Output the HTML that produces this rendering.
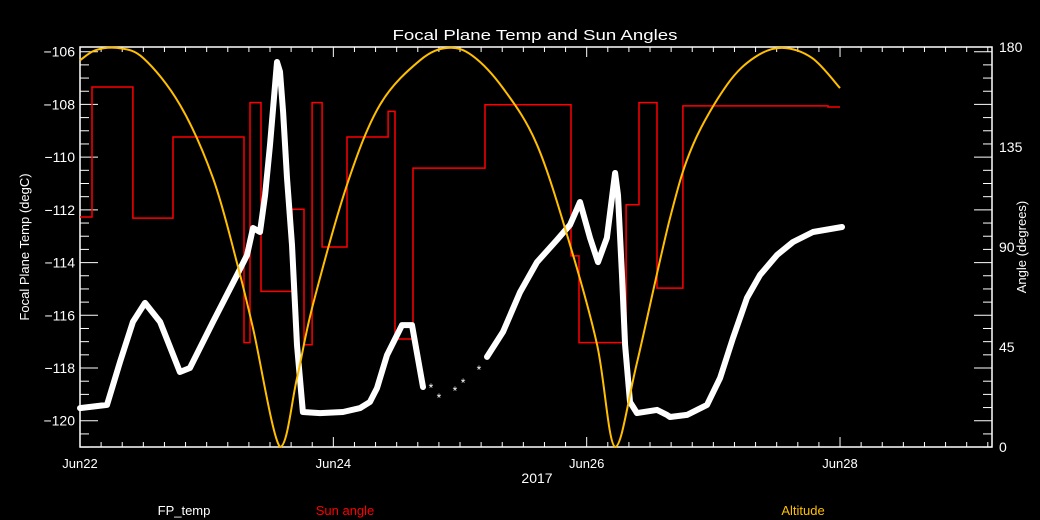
<!DOCTYPE html>
<html><head><meta charset="utf-8"><style>
html,body{margin:0;padding:0;background:#000;}
svg{display:block;font-family:"Liberation Sans",sans-serif;}
</style></head><body>
<svg id="chart" width="1040" height="520" viewBox="0 0 1040 520">
<rect width="1040" height="520" fill="#000"/>
<text x="535" y="40" fill="#fff" font-size="15" text-anchor="middle" textLength="285" lengthAdjust="spacingAndGlyphs">Focal Plane Temp and Sun Angles</text>
<g id="axes"></g>
<g id="series"></g>
<text x="537" y="483" fill="#fff" font-size="14" text-anchor="middle">2017</text>
<text transform="translate(29,247) rotate(-90)" fill="#fff" font-size="13" text-anchor="middle">Focal Plane Temp (degC)</text>
<text transform="translate(1026,247) rotate(-90)" fill="#fff" font-size="13" text-anchor="middle">Angle (degrees)</text>
<text x="184" y="515" fill="#fff" font-size="13" text-anchor="middle">FP_temp</text>
<text x="345" y="515" fill="#ff0000" font-size="13" text-anchor="middle">Sun angle</text>
<text x="803" y="515" fill="#ffbf00" font-size="13" text-anchor="middle">Altitude</text>
</svg>
<script>
// ---- data ----
const xTickLabels = ["Jun22","Jun24","Jun26","Jun28"];
const xTickDays = [0,2,4,6];
const leftTickVals = [-106,-108,-110,-112,-114,-116,-118,-120];
const rightTickVals = [0,45,90,135,180];
const tempDays = [0,.213,.316,.418,.513,.632,.789,.868,1.05,1.239,1.318,1.366,1.421,1.461,1.5,1.555,1.579,1.603,1.634,1.674,1.713,1.760,1.895,2.076,2.211,2.289,2.345,2.424,2.542,2.621,2.708];
const tempVals = [-119.52,-119.40,-117.77,-116.25,-115.53,-116.25,-118.15,-118.00,-116.25,-114.48,-113.72,-112.69,-112.84,-111.44,-109.54,-106.39,-106.76,-108.28,-110.79,-113.33,-117.13,-119.67,-119.71,-119.67,-119.52,-119.29,-118.76,-117.51,-116.37,-116.37,-118.72];
const temp2Days = [3.213,3.339,3.474,3.608,3.766,3.868,3.947,4.026,4.089,4.160,4.224,4.247,4.279,4.303,4.342,4.397,4.555,4.634,4.658,4.792,4.950,5.053,5.155,5.266,5.368,5.503,5.629,5.787,6.016];
const temp2Vals = [-117.58,-116.63,-115.12,-113.98,-113.14,-112.57,-111.70,-113.06,-113.98,-113.06,-110.60,-111.44,-114.48,-117.13,-119.29,-119.71,-119.59,-119.78,-119.86,-119.78,-119.40,-118.38,-116.86,-115.34,-114.47,-113.71,-113.22,-112.84,-112.65];
const sparseDays = [2.771,2.834,2.960,3.024,3.150];
const sparseVals = [-118.72,-119.10,-118.83,-118.53,-118.04];
const sunDays = [0,.095,.418,.734,1.295,1.342,1.429,1.674,1.768,1.832,1.911,2.108,2.432,2.487,2.629,3.197,3.876,3.939,4.311,4.413,4.555,4.760,5.905,6.0];
const sunVals = [103.5,162,103,139.5,47,155,70,107,46,155,90,139.5,151,48.6,125.5,154,86,47,109,155,71.5,153.5,153,153];
const altDays = [0,.12,.292,.5,.789,1.05,1.239,1.366,1.579,1.713,1.839,2.108,2.368,2.684,2.905,3.1,3.339,3.608,3.868,4.082,4.224,4.397,4.658,4.839,5.108,5.33,5.542,5.78,6.0];
const altVals = [174,178.5,179.6,175,154,121,83,53.5,0,31,64,118,154,174,179.6,176,161.5,136,91,46,0,38,103,136,163,175.5,179.6,175,161.5];

// ---- scales ----
const L=80,R=992,T=47,B=447;
const xs=d=>L+d*126.67;
const yT=v=>51.7+(-106-v)*26.36;
const yA=a=>B-a/0.45;
const NS="http://www.w3.org/2000/svg";
const axes=document.getElementById('axes'), series=document.getElementById('series');
function mk(tag,attrs,parent){const e=document.createElementNS(NS,tag);for(const k in attrs)e.setAttribute(k,attrs[k]);parent.appendChild(e);return e;}

const frame=mk('rect',{x:L,y:T,width:R-L,height:B-T,fill:'none',stroke:'#fff','stroke-width':1.5},axes);


for(let i=0;i<=43;i++){const x=xs(i/6);const maj=i%12===0;const h=maj?10:5;
 const t1=mk('line',{x1:x,x2:x,y1:B,y2:B-h,stroke:'#fff','stroke-width':1},axes);
 
 
 const t2=mk('line',{x1:x,x2:x,y1:T,y2:T+h,stroke:'#fff','stroke-width':1},axes);
 
 }
xTickLabels.forEach((s,i)=>{const t=mk('text',{x:xs(xTickDays[i]),y:468,fill:'#fff','font-size':13,'text-anchor':'middle'},axes);t.textContent=s;
 
 });
for(let v=-106;v>=-121;v-=0.5){const y=yT(v);const maj=Math.abs(v%2)<1e-6;const w=maj?18:9;
 const a=mk('line',{x1:L,x2:L+w,y1:y,y2:y,stroke:'#fff','stroke-width':1},axes);
 
 
 const b=mk('line',{x1:R,x2:R-w,y1:y,y2:y,stroke:'#fff','stroke-width':1},axes);
 
 }
leftTickVals.forEach(v=>{const t=mk('text',{x:75,y:yT(v)+5,fill:'#fff','font-size':14,'text-anchor':'end'},axes);t.textContent='\u2212'+Math.abs(v);
 
 });
rightTickVals.forEach(v=>{const t=mk('text',{x:999,y:yA(v)+5,fill:'#fff','font-size':14},axes);t.textContent=v;
 
 });

function poly(days,vals,color,w,name){const pts=days.map((d,i)=>xs(d).toFixed(1)+','+yT(vals[i]).toFixed(1)).join(' ');
 const p=mk('polyline',{points:pts,fill:'none',stroke:color,'stroke-width':w,'stroke-linejoin':'round','stroke-linecap':'round'},series);
 
 }
let sp='';sunDays.forEach((d,i)=>{const x=xs(d),y=yA(sunVals[i]);sp+=(i?'L'+x.toFixed(1)+','+yA(sunVals[i-1]).toFixed(1)+'L':'M')+x.toFixed(1)+','+y.toFixed(1);});
const sun=mk('path',{d:sp,fill:'none',stroke:'#ff0000','stroke-width':1.5},series);


poly(tempDays,tempVals,'#fff',6,'fp-temp-line');
poly(temp2Days,temp2Vals,'#fff',6,'fp-temp-line-2');
sparseDays.forEach((d,i)=>{const t=mk('text',{x:xs(d),y:yT(sparseVals[i])+5,fill:'#fff','font-size':12,'text-anchor':'middle'},series);t.textContent='*';
 
 });
const ap=altDays.map((d,i)=>[xs(d),yA(altVals[i])]);
let ad='M'+ap[0][0]+','+ap[0][1];
for(let i=0;i<ap.length-1;i++){const p0=ap[Math.max(0,i-1)],p1=ap[i],p2=ap[i+1],p3=ap[Math.min(ap.length-1,i+2)];
 const c1=[p1[0]+(p2[0]-p0[0])/6,Math.max(T,Math.min(B,p1[1]+(p2[1]-p0[1])/6))],c2=[p2[0]-(p3[0]-p1[0])/6,Math.max(T,Math.min(B,p2[1]-(p3[1]-p1[1])/6))];
 ad+='C'+c1[0].toFixed(1)+','+c1[1].toFixed(1)+' '+c2[0].toFixed(1)+','+c2[1].toFixed(1)+' '+p2[0].toFixed(1)+','+p2[1].toFixed(1);}
const alt=mk('path',{d:ad,fill:'none',stroke:'#ffbf00','stroke-width':2},series);


</script>
</body></html>
